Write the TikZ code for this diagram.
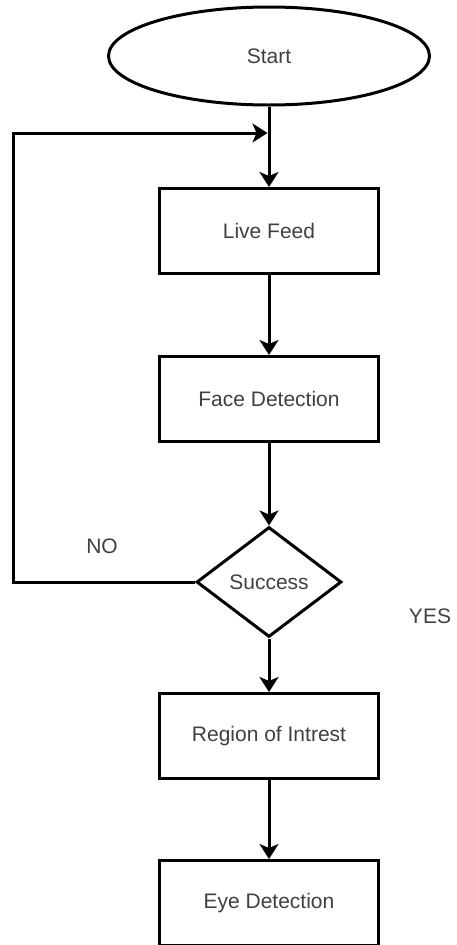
\documentclass[tikz,border=0pt]{standalone}
\usepackage{fontspec}
\setmainfont{Liberation Sans}
\usetikzlibrary{shapes.geometric, positioning, arrows.meta}

\begin{document}
\begin{tikzpicture}[x=1pt, y=-1pt, node distance=170pt, on grid,
        line width=3pt, >={Stealth[length=15pt,width=19pt,inset=4pt]}]
        \useasboundingbox (0,0) rectangle (456,945);
        \tikzstyle{every node}=[font=\fontsize{21}{25}\selectfont, text=black!75]
        % Define the flowchart shapes
        \tikzstyle{terminal}=[draw, ellipse, minimum width=321pt, minimum height=98pt]
        \tikzstyle{process}=[draw, rectangle, minimum width=219pt, minimum height=85pt]
        \tikzstyle{decision}=[draw, diamond, aspect=1.3, minimum width=145pt, minimum height=110pt, inner sep=0pt]

        \node[terminal] (start) at (269,56) {Start};
        \node[process] (live) [below=175pt of start] {Live Feed};
        \node[process] (face) [below=168pt of live] {Face Detection};
        \node[decision] (success) [below=183pt of face] {Success};
        \node[process] (roi) [below=154pt of success] {Region of Intrest};
        \node[process] (eye) [below=167pt of roi] {Eye Detection};
        \node (no) [above left=36pt and 167pt of success] {NO};
        \node (yes) [below right=34pt and 161pt of success] {YES};

        % Loop back to the live feed
        \coordinate (corner) at (13,133);
        \coordinate (join) at (269,133);

        \path[->]
        (start) edge (live)
        (live) edge (face)
        (face) edge (success)
        (success) edge (roi)
        (roi) edge (eye);
        \draw[->, shorten >=1.5pt] (success.west) -| (corner) -- (join);
    \end{tikzpicture}
\end{document}
